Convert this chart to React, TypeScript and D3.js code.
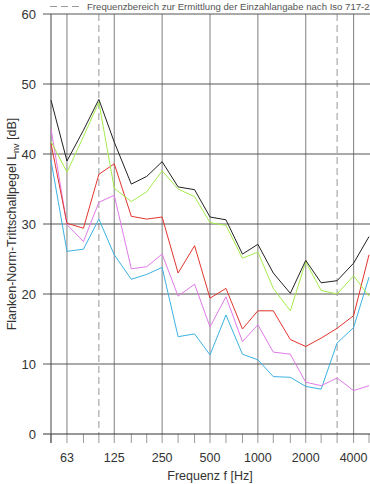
import * as d3 from "d3";
import React from "react";

// Terzbänder 50 Hz .. 5000 Hz
const freqs = [50, 63, 80, 100, 125, 160, 200, 250, 315, 400, 500, 630, 800, 1000, 1250, 1600, 2000, 2500, 3150, 4000, 5000];
const xTickLabels = [63, 125, 250, 500, 1000, 2000, 4000];
const yTicks = [0, 10, 20, 30, 40, 50, 60];
const rangeMarks = [100, 3150]; // Frequenzbereich nach ISO 717-2

const seriesBlack = [47.7, 39.0, 43.4, 47.8, 41.7, 35.7, 36.8, 38.9, 35.3, 34.9, 31.0, 30.6, 25.7, 27.1, 23.0, 20.1, 24.8, 21.6, 21.9, 24.4, 28.2];
const seriesGreen = [41.8, 37.4, 42.5, 47.4, 35.1, 33.2, 34.6, 37.6, 35.0, 33.9, 30.2, 29.8, 25.1, 26.0, 20.8, 17.6, 24.6, 20.5, 20.0, 22.6, 19.7];
const seriesRed = [41.5, 30.1, 29.4, 37.1, 38.6, 31.1, 30.7, 31.0, 23.0, 26.9, 19.4, 20.8, 15.0, 17.6, 17.6, 13.5, 12.5, 13.7, 15.1, 16.9, 25.6];
const seriesViolet = [43.6, 29.9, 27.5, 33.1, 34.1, 23.6, 23.9, 25.7, 19.7, 21.4, 15.3, 19.6, 13.2, 15.6, 11.7, 11.4, 7.4, 6.9, 8.0, 6.2, 6.9];
const seriesBlue = [39.1, 26.1, 26.4, 30.7, 25.6, 22.1, 22.8, 23.8, 13.9, 14.3, 11.3, 17.0, 11.4, 10.6, 8.2, 8.1, 6.8, 6.4, 13.0, 15.2, 22.4];

const series = [
  { values: seriesBlue, color: "#3cb2e2" },
  { values: seriesViolet, color: "#e07ae8" },
  { values: seriesRed, color: "#e2352e" },
  { values: seriesGreen, color: "#a4ec4c" },
  { values: seriesBlack, color: "#222222" },
];

const width = 370;
const height = 484;
const margin = { top: 14, right: 1, bottom: 50, left: 51 };

export default function App() {
  const x = d3.scaleLog().domain([50, 5000]).range([margin.left, width - margin.right]);
  const y = d3.scaleLinear().domain([0, 60]).range([height - margin.bottom, margin.top]);
  const line = d3
    .line<number>()
    .x((_, i) => x(freqs[i]))
    .y((d) => y(d));

  const font = "'Liberation Sans', Arial, sans-serif";
  const y0 = y(0);

  return (
    <svg
      width={width}
      height={height}
      style={{ position: "absolute", left: 0, top: 0, background: "#fff" }}
      fontFamily={font}
    >
      {/* vertikale Gitterlinien */}
      {xTickLabels.map((f) => (
        <line key={"v" + f} x1={x(f)} x2={x(f)} y1={y(60)} y2={y0} stroke="#8a8a8a" strokeWidth={1.1} />
      ))}
      {rangeMarks.map((f) => (
        <line key={"d" + f} x1={x(f)} x2={x(f)} y1={y(60)} y2={y0} stroke="#999" strokeWidth={1} strokeDasharray="7,4" />
      ))}
      {/* Teilstriche unten */}
      {freqs.map((f) => (
        <line key={"t" + f} x1={x(f)} x2={x(f)} y1={y0} y2={y0 + 9} stroke="#999" strokeWidth={1} />
      ))}
      {/* horizontale Gitterlinien */}
      {yTicks.map((t) => (
        <g key={"h" + t}>
          <line x1={margin.left - 8} x2={width} y1={y(t)} y2={y(t)} stroke={t === 0 ? "#333" : "#555"} strokeWidth={1} />
          <text x={36} y={y(t)} dy="0.36em" textAnchor="end" fontSize={13} fill="#333">
            {t}
          </text>
        </g>
      ))}
      <line x1={margin.left} x2={margin.left} y1={y(60)} y2={y0 + 9} stroke="#444" strokeWidth={1} />

      {/* Messkurven */}
      {series.map((s, i) => (
        <path key={i} d={line(s.values) ?? ""} fill="none" stroke={s.color} strokeWidth={1} />
      ))}

      {/* x-Achsenbeschriftung */}
      {xTickLabels.map((f) => (
        <text key={"l" + f} x={x(f)} y={462} textAnchor="middle" fontSize={12.5} fill="#333">
          {f}
        </text>
      ))}
      <text x={210} y={480} textAnchor="middle" fontSize={12.5} fill="#333">
        Frequenz f [Hz]
      </text>
      <text transform={`translate(16,${y(30)}) rotate(-90)`} textAnchor="middle" fontSize={12.5} fill="#333">
        Flanken-Norm-Trittschallpegel L
        <tspan fontSize={9} dy={3}>nv</tspan>
        <tspan dy={-3}> [dB]</tspan>
      </text>

      {/* Legende */}
      <line x1={50} x2={79} y1={6.5} y2={6.5} stroke="#999" strokeWidth={1} strokeDasharray="7,4" />
      <text x={87} y={10} fontSize={9.6} fill="#555">
        Frequenzbereich zur Ermittlung der Einzahlangabe nach Iso 717-2
      </text>
    </svg>
  );
}
